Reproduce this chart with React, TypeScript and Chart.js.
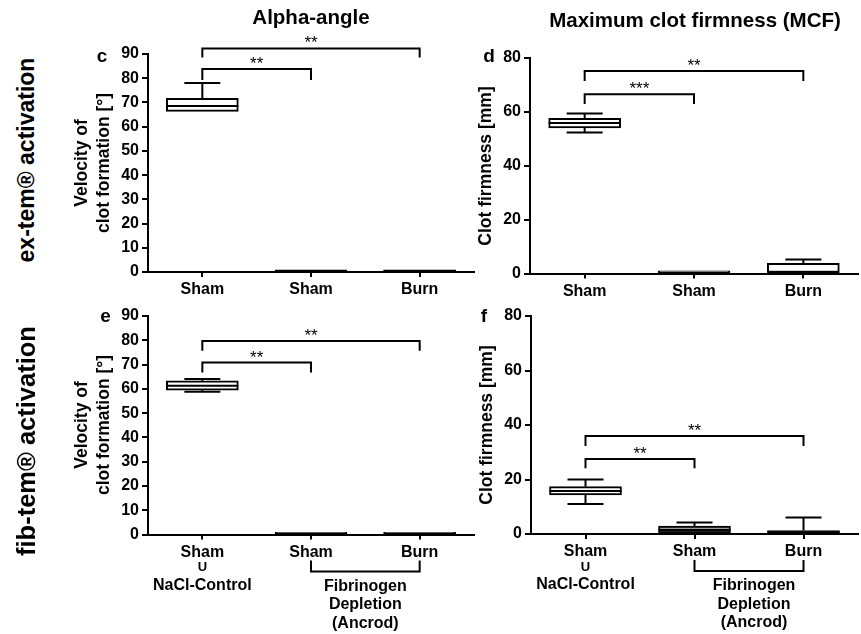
import React, { useEffect, useRef } from 'react';
import { Chart, registerables } from 'chart.js';

Chart.register(...registerables);

const FONT = "'Liberation Sans', Arial, sans-serif";
Chart.defaults.font.family = FONT;

// ---------- data ----------
const categories = ['Sham', 'Sham', 'Burn'];

const columnTitles = ['Alpha-angle', 'Maximum clot firmness (MCF)'];
const rowTitles = ['ex-tem® activation', 'fib-tem® activation'];
const panelLetters = ['c', 'd', 'e', 'f'];
const alphaAxisTitle = ['Velocity of', 'clot formation [°]'];
const mcfAxisTitle = 'Clot firmness [mm]';
const unionMark = 'U';
const controlGroupLabel = 'NaCl-Control';
const depletionGroupLabel = ['Fibrinogen', 'Depletion', '(Ancrod)'];

// panel c: alpha-angle, ex-tem
const cMin = [66.3, 0, 0];
const cQ1 = [66.3, 0, 0];
const cMed = [68.5, 0.4, 0.4];
const cQ3 = [71.7, 0.9, 0.9];
const cMax = [78, 0.9, 0.9];
const cPairs = [[0, 1], [0, 2]];
const cTops = [83.8, 92.3];
const cLegs = [[79.3, 79.3], [88.6, 88.6]];
const cStars = ['**', '**'];

// panel d: MCF, ex-tem
const dMin = [52.2, 0, 0];
const dQ1 = [53.9, 0, 0];
const dMed = [55.7, 0.4, 0.3];
const dQ3 = [57.5, 1.0, 3.8];
const dMax = [59.3, 1.0, 5.2];
const dPairs = [[0, 1], [0, 2]];
const dTops = [66.4, 75];
const dLegs = [[62.8, 62.8], [71.3, 71.3]];
const dStars = ['***', '**'];

// panel e: alpha-angle, fib-tem
const eMin = [58.8, 0, 0];
const eQ1 = [59.5, 0, 0];
const eMed = [61.3, 0.4, 0.4];
const eQ3 = [63.3, 0.9, 0.9];
const eMax = [64, 0.9, 0.9];
const ePairs = [[0, 1], [0, 2]];
const eTops = [70.8, 79.7];
const eLegs = [[66.7, 66.7], [75.7, 75.7]];
const eStars = ['**', '**'];

// panel f: MCF, fib-tem
const fMin = [11, 0, 0];
const fQ1 = [14.3, 0.4, 0.2];
const fMed = [15.8, 1.5, 0.6];
const fQ3 = [17.4, 2.9, 1.3];
const fMax = [20, 4.2, 6.1];
const fPairs = [[0, 1], [0, 2]];
const fTops = [27.5, 36];
const fLegs = [[24.1, 24.1], [32.3, 32.3]];
const fStars = ['**', '**'];

const whiteFills = ['#ffffff', '#ffffff', '#ffffff'];
const fFills = ['#ffffff', '#999999', '#000000'];

// ---------- layout ----------
type Rect = { left: number; top: number; width: number; height: number };
type Area = { left: number; right: number; top: number; bottom: number };
type Panel = {
  rect: Rect;
  area: Area;
  yMax: number;
  yStep: number;
  mins: number[];
  q1: number[];
  med: number[];
  q3: number[];
  maxs: number[];
  fills: string[];
  pairs: number[][];
  tops: number[];
  legs: number[][];
  stars: string[];
  groups: boolean;
  groupShift: number;
};

const panels: Panel[] = [
  {
    rect: { left: 60, top: 20, width: 420, height: 290 },
    area: { left: 148, right: 474, top: 54, bottom: 272 },
    yMax: 90, yStep: 10,
    mins: cMin, q1: cQ1, med: cMed, q3: cQ3, maxs: cMax, fills: whiteFills,
    pairs: cPairs, tops: cTops, legs: cLegs, stars: cStars, groups: false, groupShift: 0,
  },
  {
    rect: { left: 470, top: 20, width: 391, height: 290 },
    area: { left: 530, right: 858, top: 57.5, bottom: 273.5 },
    yMax: 80, yStep: 20,
    mins: dMin, q1: dQ1, med: dMed, q3: dQ3, maxs: dMax, fills: whiteFills,
    pairs: dPairs, tops: dTops, legs: dLegs, stars: dStars, groups: false, groupShift: 0,
  },
  {
    rect: { left: 60, top: 290, width: 420, height: 344 },
    area: { left: 148, right: 474, top: 316, bottom: 534.5 },
    yMax: 90, yStep: 10,
    mins: eMin, q1: eQ1, med: eMed, q3: eQ3, maxs: eMax, fills: whiteFills,
    pairs: ePairs, tops: eTops, legs: eLegs, stars: eStars, groups: true, groupShift: 0,
  },
  {
    rect: { left: 470, top: 290, width: 391, height: 344 },
    area: { left: 531, right: 858, top: 316, bottom: 534 },
    yMax: 80, yStep: 20,
    mins: fMin, q1: fQ1, med: fMed, q3: fQ3, maxs: fMax, fills: fFills,
    pairs: fPairs, tops: fTops, legs: fLegs, stars: fStars, groups: true, groupShift: 5,
  },
];

const Y_W = 40;
const X_H = 30;

function makePlugin(p: Panel) {
  return {
    id: 'boxExtras',
    afterDatasetsDraw(chart: any) {
      const { ctx } = chart;
      const x = chart.scales.x;
      const y = chart.scales.y;
      ctx.save();
      ctx.strokeStyle = '#000';
      ctx.fillStyle = '#000';
      ctx.lineWidth = 2;
      ctx.lineCap = 'butt';
      const line = (x1: number, y1: number, x2: number, y2: number) => {
        ctx.beginPath();
        ctx.moveTo(x1, y1);
        ctx.lineTo(x2, y2);
        ctx.stroke();
      };
      const half = 36;
      const cap = 18;
      categories.forEach((_, i) => {
        const cx = x.getPixelForValue(i);
        const ym = y.getPixelForValue(p.med[i]);
        line(cx - half, ym, cx + half, ym);
        if (p.maxs[i] > p.q3[i]) {
          const a = y.getPixelForValue(p.q3[i]);
          const b = y.getPixelForValue(p.maxs[i]);
          line(cx, a, cx, b);
          line(cx - cap, b, cx + cap, b);
        }
        if (p.mins[i] < p.q1[i]) {
          const a = y.getPixelForValue(p.q1[i]);
          const b = y.getPixelForValue(p.mins[i]);
          line(cx, a, cx, b);
          line(cx - cap, b, cx + cap, b);
        }
      });
      // significance brackets
      ctx.font = `17px ${FONT}`;
      ctx.textAlign = 'center';
      ctx.textBaseline = 'alphabetic';
      p.pairs.forEach((pair, k) => {
        const x1 = x.getPixelForValue(pair[0]);
        const x2 = x.getPixelForValue(pair[1]);
        const yt = y.getPixelForValue(p.tops[k]);
        const l1 = y.getPixelForValue(p.legs[k][0]);
        const l2 = y.getPixelForValue(p.legs[k][1]);
        ctx.beginPath();
        ctx.moveTo(x1, l1);
        ctx.lineTo(x1, yt);
        ctx.lineTo(x2, yt);
        ctx.lineTo(x2, l2);
        ctx.stroke();
        ctx.fillText(p.stars[k], (x1 + x2) / 2, yt);
      });
      // group annotations below the axis
      if (p.groups) {
        const base = chart.chartArea.bottom;
        const x0 = x.getPixelForValue(0);
        const x1 = x.getPixelForValue(1);
        const x2 = x.getPixelForValue(2);
        ctx.textBaseline = 'middle';
        ctx.font = `bold 13px ${FONT}`;
        ctx.fillText(unionMark, x0, base + 33);
        ctx.font = `bold 16px ${FONT}`;
        ctx.fillText(controlGroupLabel, x0, base + 51);
        ctx.beginPath();
        ctx.moveTo(x1, base + 26);
        ctx.lineTo(x1, base + 37);
        ctx.lineTo(x2, base + 37);
        ctx.lineTo(x2, base + 26);
        ctx.stroke();
        depletionGroupLabel.forEach((t, k) => {
          ctx.fillText(t, (x1 + x2) / 2 + p.groupShift, base + 52 + k * 18.5);
        });
      }
      ctx.restore();
    },
  };
}

function PanelChart({ p }: { p: Panel }) {
  const ref = useRef<HTMLCanvasElement>(null);
  useEffect(() => {
    const { rect, area } = p;
    const chart = new Chart(ref.current as HTMLCanvasElement, {
      type: 'bar',
      data: {
        labels: categories,
        datasets: [
          {
            data: categories.map((_, i) => [p.q1[i], p.q3[i]]) as any,
            backgroundColor: p.fills,
            borderColor: '#000',
            borderWidth: 2,
            borderSkipped: false,
            barThickness: 72,
          },
        ],
      },
      options: {
        animation: false,
        responsive: false,
        devicePixelRatio: 1,
        events: [],
        layout: {
          padding: {
            left: area.left - rect.left - Y_W,
            right: rect.left + rect.width - area.right,
            top: area.top - rect.top,
            bottom: rect.top + rect.height - area.bottom - X_H,
          },
        },
        plugins: { legend: { display: false }, tooltip: { enabled: false }, title: { display: false } },
        scales: {
          x: {
            type: 'category',
            offset: true,
            grid: { offset: false, drawOnChartArea: false, drawTicks: true, tickLength: 5, lineWidth: 2, color: '#000' },
            border: { display: true, width: 2, color: '#000' },
            ticks: { color: '#000', font: { size: 16, weight: 'bold' }, padding: 3, maxRotation: 0, autoSkip: false },
            afterFit: (s: any) => { s.height = X_H; },
          },
          y: {
            type: 'linear',
            min: 0,
            max: p.yMax,
            grid: { drawOnChartArea: false, drawTicks: true, tickLength: 6, lineWidth: 2, color: '#000' },
            border: { display: true, width: 2, color: '#000' },
            ticks: { stepSize: p.yStep, color: '#000', font: { size: 16, weight: 'bold' }, padding: 3 },
            afterFit: (s: any) => { s.width = Y_W; },
          },
        },
      } as any,
      plugins: [makePlugin(p)],
    });
    return () => chart.destroy();
  }, [p]);
  return (
    <canvas
      ref={ref}
      width={p.rect.width}
      height={p.rect.height}
      style={{ position: 'absolute', left: p.rect.left, top: p.rect.top, width: p.rect.width, height: p.rect.height }}
    />
  );
}

function HText({ x, baseline, size, text, bold = true }: { x: number; baseline: number; size: number; text: string; bold?: boolean }) {
  return (
    <div
      style={{
        position: 'absolute',
        left: x,
        top: baseline - 0.8465 * size,
        fontSize: size,
        lineHeight: `${size}px`,
        fontWeight: bold ? 'bold' : 'normal',
        transform: 'translateX(-50%)',
        whiteSpace: 'nowrap',
      }}
    >
      {text}
    </div>
  );
}

function VText({ cx, cy, size, text }: { cx: number; cy: number; size: number; text: string }) {
  return (
    <div
      style={{
        position: 'absolute',
        left: cx,
        top: cy,
        fontSize: size,
        lineHeight: `${size}px`,
        fontWeight: 'bold',
        transform: 'translate(-50%, -50%) rotate(-90deg)',
        whiteSpace: 'nowrap',
      }}
    >
      {text}
    </div>
  );
}

export default function App() {
  return (
    <div
      style={{
        position: 'absolute',
        left: 0,
        top: 0,
        width: 861,
        height: 634,
        background: '#fff',
        fontFamily: FONT,
        color: '#000',
        overflow: 'hidden',
      }}
    >
      {panels.map((p, i) => (
        <PanelChart key={i} p={p} />
      ))}
      <HText x={311} baseline={24.5} size={20.5} text={columnTitles[0]} />
      <HText x={695} baseline={27} size={20.5} text={columnTitles[1]} />
      <VText cx={26} cy={160} size={23} text={rowTitles[0]} />
      <VText cx={27} cy={441} size={25.5} text={rowTitles[1]} />
      <HText x={102} baseline={61.7} size={19} text={panelLetters[0]} />
      <HText x={489} baseline={62.3} size={19} text={panelLetters[1]} />
      <HText x={105.5} baseline={322} size={19} text={panelLetters[2]} />
      <HText x={484} baseline={321.7} size={19} text={panelLetters[3]} />
      <VText cx={82} cy={163} size={17.5} text={alphaAxisTitle[0]} />
      <VText cx={104} cy={163} size={17.5} text={alphaAxisTitle[1]} />
      <VText cx={82} cy={425} size={17.5} text={alphaAxisTitle[0]} />
      <VText cx={104} cy={425} size={17.5} text={alphaAxisTitle[1]} />
      <VText cx={486} cy={166} size={17.5} text={mcfAxisTitle} />
      <VText cx={486.5} cy={425} size={17.5} text={mcfAxisTitle} />
    </div>
  );
}
